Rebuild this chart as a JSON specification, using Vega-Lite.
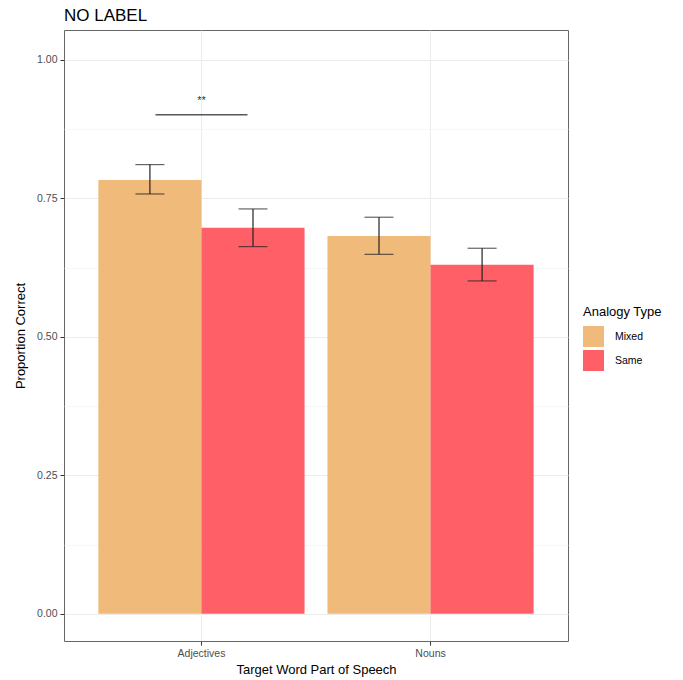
{
  "$schema": "https://vega.github.io/schema/vega-lite/v6.json",
  "autosize": {"type": "none"},
  "padding": {"left": 64, "top": 30, "right": 115, "bottom": 39},
  "width": 504,
  "height": 611,
  "title": {"text": "NO LABEL", "anchor": "start", "frame": "group", "fontSize": 17, "fontWeight": "normal", "color": "#000000", "font": "Liberation Sans", "offset": 5},
  "datasets": {
    "bars": [
      {"pos": "Adjectives", "type": "Mixed", "prop": 0.783, "lo": 0.758, "hi": 0.811},
      {"pos": "Adjectives", "type": "Same", "prop": 0.697, "lo": 0.663, "hi": 0.731},
      {"pos": "Nouns", "type": "Mixed", "prop": 0.682, "lo": 0.649, "hi": 0.716},
      {"pos": "Nouns", "type": "Same", "prop": 0.630, "lo": 0.601, "hi": 0.660}
    ],
    "sig": [
      {"pos": "Adjectives", "y": 0.901, "label": "**", "ly": 0.926}
    ]
  },
  "config": {
    "font": "Liberation Sans",
    "view": {"stroke": "#666666", "strokeWidth": 1},
    "axis": {"labelColor": "#4D4D4D", "labelFontSize": 10.5, "tickColor": "#333333", "tickSize": 4, "labelPadding": 2, "titleFontSize": 13, "titleFontWeight": "normal", "titleColor": "#000000", "domain": false, "gridColor": "#EBEBEB", "gridWidth": 1}
  },
  "layer": [
    {
      "data": {"name": "bars"},
      "mark": {"type": "bar"},
      "encoding": {
        "x": {"field": "pos", "type": "nominal", "title": "Target Word Part of Speech", "scale": {"paddingInner": 0.1, "paddingOuter": 0.15}, "axis": {"labelAngle": 0, "grid": true, "bandPosition": 0.5, "labelPadding": 3, "titlePadding": 5}},
        "xOffset": {"field": "type", "type": "nominal", "scale": {"paddingInner": 0, "paddingOuter": 0}},
        "y": {"field": "prop", "type": "quantitative", "title": "Proportion Correct", "scale": {"domain": [-0.049, 1.054], "nice": false, "zero": false}, "axis": {"orient": "left", "values": [0, 0.25, 0.5, 0.75, 1], "format": ".2f", "grid": true, "labelPadding": 3, "titlePadding": 9}},
        "y2": {"datum": 0},
        "color": {"field": "type", "type": "nominal", "scale": {"domain": ["Mixed", "Same"], "range": ["#F0BA7B", "#FF5F66"]}, "legend": {"title": "Analogy Type", "orient": "none", "legendX": 519, "legendY": 276, "titleFontSize": 13, "titleFontWeight": "normal", "titleColor": "#000000", "labelFontSize": 10.5, "labelColor": "#000000", "symbolType": "square", "symbolSize": 441, "symbolStrokeWidth": 0, "symbolOpacity": 1, "rowPadding": 3, "labelOffset": 11, "titlePadding": 7}}
      }
    },
    {
      "data": {"name": "bars"},
      "mark": {"type": "rule", "color": "#222222", "strokeWidth": 1.2},
      "encoding": {
        "x": {"field": "pos", "type": "nominal"},
        "xOffset": {"field": "type", "type": "nominal"},
        "y": {"field": "lo", "type": "quantitative", "axis": {"orient": "left", "values": [0.125, 0.375, 0.625, 0.875], "grid": true, "gridColor": "#F2F2F2", "gridWidth": 0.7, "labels": false, "ticks": false, "title": null}},
        "y2": {"field": "hi"}
      }
    },
    {
      "data": {"name": "bars"},
      "mark": {"type": "tick", "color": "#222222", "thickness": 1.2, "size": 29, "orient": "horizontal"},
      "encoding": {
        "x": {"field": "pos", "type": "nominal"},
        "xOffset": {"field": "type", "type": "nominal"},
        "y": {"field": "lo", "type": "quantitative", "axis": null}
      }
    },
    {
      "data": {"name": "bars"},
      "mark": {"type": "tick", "color": "#222222", "thickness": 1.2, "size": 29, "orient": "horizontal"},
      "encoding": {
        "x": {"field": "pos", "type": "nominal"},
        "xOffset": {"field": "type", "type": "nominal"},
        "y": {"field": "hi", "type": "quantitative", "axis": null}
      }
    },
    {
      "data": {"name": "sig"},
      "mark": {"type": "tick", "color": "#111111", "thickness": 1.4, "size": 92, "orient": "horizontal"},
      "encoding": {
        "x": {"field": "pos", "type": "nominal"},
        "y": {"field": "y", "type": "quantitative", "axis": null}
      }
    },
    {
      "data": {"name": "sig"},
      "mark": {"type": "text", "color": "#333333", "fontSize": 11, "baseline": "middle"},
      "encoding": {
        "x": {"field": "pos", "type": "nominal"},
        "y": {"field": "ly", "type": "quantitative", "axis": null},
        "text": {"field": "label"}
      }
    }
  ],
  "resolve": {"axis": {"y": "independent"}}
}
